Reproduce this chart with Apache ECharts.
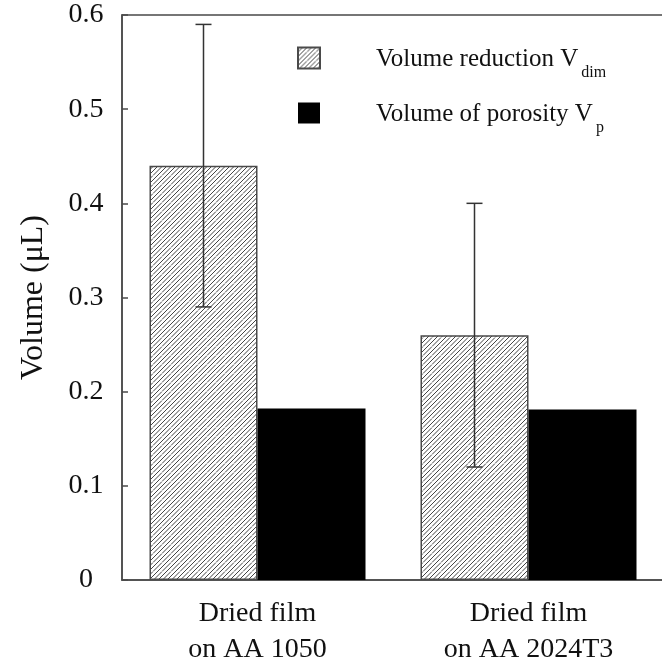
<!DOCTYPE html>
<html>
<head>
<meta charset="utf-8">
<script src="https://cdn.jsdelivr.net/npm/echarts@6/dist/echarts.min.js"></script>
<style>html,body{margin:0;padding:0;background:#fff}#c{width:662px;height:664px}</style>
</head>
<body>
<div id="c"></div>
<script>
// ---- data ----
const categories = ['Dried film\non AA 1050', 'Dried film\non AA 2024T3'];
const volumeReduction = [0.44, 0.26];      // V_dim (hatched)
const porosityVolume = [0.182, 0.181];     // V_p (black)
const errLow = [0.29, 0.12];
const errHigh = [0.59, 0.40];
const legendMain = ['Volume reduction V', 'Volume of porosity V'];
const legendSub = ['dim', 'p'];
const yMin = 0, yMax = 0.6, yStep = 0.1;

// ---- style ----
const FONT = '"Liberation Serif", "Times New Roman", serif';
const BAR_W = 108;
const AXIS_C = '#4a4a4a';

function hatch() {
  const s = 9;
  const c = document.createElement('canvas');
  c.width = s; c.height = s;
  const g = c.getContext('2d');
  g.fillStyle = '#fff'; g.fillRect(0, 0, s, s);
  g.strokeStyle = '#444'; g.lineWidth = 1;
  const h = s / 2;
  const lines = [[0, h, h, 0], [0, s, s, 0], [h, s, s, h], [-1, 1, 1, -1], [s - 1, s + 1, s + 1, s - 1]];
  lines.forEach(l => { g.beginPath(); g.moveTo(l[0], l[1]); g.lineTo(l[2], l[3]); g.stroke(); });
  return c;
}
const hatchPattern = { image: hatch(), repeat: 'repeat' };

const chart = echarts.init(document.getElementById('c'), null, { renderer: 'canvas' });
const names = legendMain.map((m, i) => m + legendSub[i]);

chart.setOption({
  animation: false,
  backgroundColor: '#fff',
  grid: { left: 122, top: 15, width: 542, height: 565, containLabel: false, outerBoundsMode: 'none',
    show: true, borderColor: AXIS_C, borderWidth: 1.5, backgroundColor: 'transparent' },
  legend: {
    orient: 'vertical', left: 292, top: 39,
    itemWidth: 22, itemHeight: 21, itemGap: 15, icon: 'rect',
    data: names,
    formatter: function (n) { const i = names.indexOf(n); return '{m|' + legendMain[i] + '}{s|' + legendSub[i] + '}'; },
    textStyle: {
      fontFamily: FONT, fontSize: 25, color: '#111', padding: [0, 0, 0, 51],
      rich: {
        m: { fontFamily: FONT, fontSize: 25, color: '#111', lineHeight: 28, padding: [3, 0, 0, 0], verticalAlign: 'top' },
        s: { fontFamily: FONT, fontSize: 16, color: '#111', lineHeight: 16, padding: [21, 0, 3, 3], verticalAlign: 'top' }
      }
    }
  },
  xAxis: {
    type: 'category', data: categories,
    axisLine: { lineStyle: { color: AXIS_C, width: 1.5 } },
    axisTick: { inside: true, length: 19, lineStyle: { color: AXIS_C, width: 1.5 } },
    axisLabel: { fontFamily: FONT, fontSize: 28, color: '#111', lineHeight: 36, margin: 16 }
  },
  yAxis: {
    type: 'value', min: yMin, max: yMax, interval: yStep,
    name: 'Volume (μL)', nameLocation: 'middle', nameGap: 72, nameRotate: 90,
    nameTextStyle: { fontFamily: FONT, fontSize: 32, color: '#111' },
    splitLine: { show: false },
    axisLine: { show: true, lineStyle: { color: AXIS_C, width: 1.5 } },
    axisTick: { show: true, inside: true, length: 6, lineStyle: { color: AXIS_C, width: 1.5 } },
    axisLabel: { fontFamily: FONT, fontSize: 28, color: '#111', align: 'center', margin: 36,
      formatter: v => (Math.round(v * 10) / 10).toString() }
  },
  series: [
    {
      name: names[0], type: 'bar', data: volumeReduction, barWidth: BAR_W, barGap: '0%',
      itemStyle: { color: hatchPattern, borderColor: '#4a4a4a', borderWidth: 1.5 }
    },
    {
      name: names[1], type: 'bar', data: porosityVolume, barWidth: BAR_W, barGap: '0%',
      itemStyle: { color: '#000', borderColor: '#000', borderWidth: 0 }
    },
    {
      type: 'custom', z: 10, silent: true,
      data: errLow.map((lo, i) => [i, lo, errHigh[i]]),
      renderItem: function (params, api) {
        const i = api.value(0);
        const lo = api.coord([i, api.value(1)]);
        const hi = api.coord([i, api.value(2)]);
        const x = lo[0] - BAR_W / 2;
        const cap = 8;
        const st = { stroke: '#333', lineWidth: 1.5 };
        return { type: 'group', children: [
          { type: 'line', shape: { x1: x, y1: lo[1], x2: x, y2: hi[1] }, style: st },
          { type: 'line', shape: { x1: x - cap, y1: lo[1], x2: x + cap, y2: lo[1] }, style: st },
          { type: 'line', shape: { x1: x - cap, y1: hi[1], x2: x + cap, y2: hi[1] }, style: st }
        ] };
      }
    }
  ]
});
</script>
</body>
</html>
